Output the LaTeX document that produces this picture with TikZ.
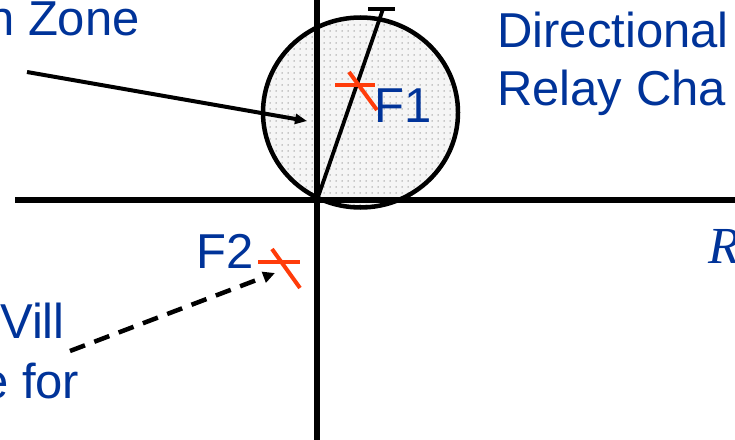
\documentclass[tikz,border=0pt]{standalone}
\usepackage{fontspec}
\setmainfont{Liberation Sans}
\newfontfamily\serifit{Liberation Serif}
\usetikzlibrary{arrows.meta,patterns}
\pgfdeclarepatternformonly{bigdots}{\pgfqpoint{-1pt}{-1pt}}{\pgfqpoint{1pt}{1pt}}{\pgfqpoint{6pt}{6pt}}{\pgfpathcircle{\pgfqpoint{0pt}{0pt}}{0.75pt}\pgfusepath{fill}}
\definecolor{txtblue}{RGB}{0,51,153}
\definecolor{faultred}{RGB}{255,60,10}
\begin{document}
\begin{tikzpicture}[x=1pt,y=-1pt,
  lbl/.style={anchor=base west,inner sep=0pt,text=txtblue,font=\fontsize{49}{58}\selectfont},
  axis/.style={line width=5.5pt,black},
  fault/.style={line width=4pt,faultred},
  pointer/.style={line width=4pt,-{Triangle[length=12pt,width=10pt]}},
  dpointer/.style={line width=4.5pt,dash pattern=on 16pt off 10pt,-{Triangle[length=12pt,width=11pt]}}]
\useasboundingbox (0,0) rectangle (735,439);
\clip (0,0) rectangle (735,439);
% zone circle
\fill[black!4] (360.5,112.5) ellipse [x radius=97.5,y radius=95];
\fill[pattern=bigdots,pattern color=black!40] (360.5,112.5) ellipse [x radius=97.5,y radius=95];
\draw[line width=4.5pt] (360.5,112.5) ellipse [x radius=97.5,y radius=95];
% axes
\coordinate (O) at (317,200);
\coordinate (xl) at (15,200);
\coordinate (xr) at (740,200);
\coordinate (yt) at (317,-5);
\coordinate (yb) at (317,445);
\draw[axis] (xl) -- (xr);
\draw[axis] (yt) -- (yb);
% line impedance
\coordinate (lt) at (383,9);
\coordinate (tl) at (368,9);
\coordinate (tr) at (395,9);
\draw[line width=3.8pt] (O) -- (lt);
\draw[line width=3.8pt] (tl) -- (tr);
% F1 fault cross
\coordinate (f1a) at (335,85);
\coordinate (f1b) at (375,85);
\coordinate (f1c) at (349,72);
\coordinate (f1d) at (377,110);
\draw[fault] (f1a) -- (f1b);
\draw[fault] (f1c) -- (f1d);
% F2 fault cross
\coordinate (f2a) at (258,262);
\coordinate (f2b) at (300,262);
\coordinate (f2c) at (272,249);
\coordinate (f2d) at (300,288);
\draw[fault] (f2a) -- (f2b);
\draw[fault] (f2c) -- (f2d);
% labels
\node[lbl] (zone) at (-13,35) {n Zone};
\node[lbl] (dir) at (497,47) {Directional};
\node[lbl] (rel) at (497,105) {Relay Cha};
\node[lbl] (F1) at (374,122) {F1};
\node[lbl] (F2) at (196,268) {F2};
\node[lbl] (will) at (0,338) {Vill};
\node[lbl] (efor) at (-19,398) {e for};
\node[anchor=base west,inner sep=0pt,text=txtblue,font=\fontsize{52}{60}\serifit\itshape] (R) at (708,263) {R};
% pointers
\coordinate (p1s) at (27,72);
\coordinate (p1e) at (307,121);
\draw[pointer] (p1s) -- (p1e);
\coordinate (p2s) at (70,351);
\coordinate (p2e) at (275,273);
\draw[dpointer] (p2s) -- (p2e);
\end{tikzpicture}
\end{document}
